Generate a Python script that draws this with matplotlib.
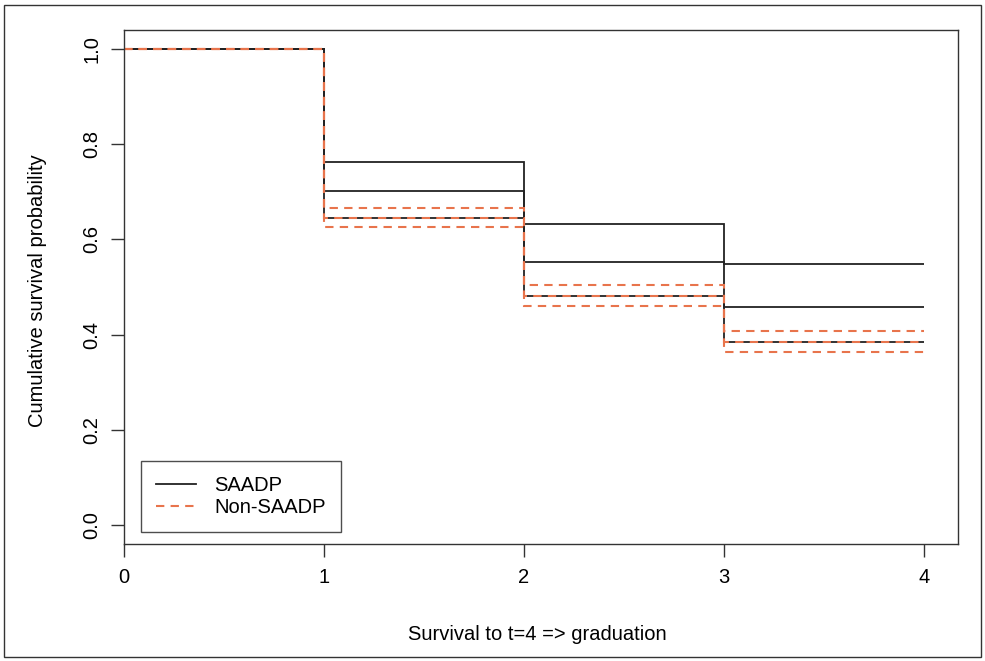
import matplotlib
matplotlib.use("Agg")
import matplotlib.pyplot as plt
from matplotlib.patches import Rectangle

plt.rcParams['font.family'] = ['Liberation Sans', 'DejaVu Sans']

# step times and survival estimates with confidence bounds
times = [0, 1, 2, 3, 4]
saadp_upper = [1.0, 0.762, 0.633, 0.549]
saadp_est = [1.0, 0.701, 0.553, 0.459]
saadp_lower = [1.0, 0.646, 0.482, 0.385]
non_upper = [1.0, 0.667, 0.504, 0.408]
non_est = [1.0, 0.646, 0.482, 0.385]
non_lower = [1.0, 0.627, 0.460, 0.363]

black = "#222222"
orange = "#E8744C"
fs = 14.5

fig = plt.figure(figsize=(9.85, 6.61), dpi=100)
ax = fig.add_axes([0.1259, 0.177, 0.8467, 0.7776])


def stairs(ax, vals, **kw):
    return ax.stairs(vals, times, baseline=None, **kw)


for v in (saadp_upper, saadp_est, saadp_lower):
    stairs(ax, v, color=black, lw=1.3)
for v in (non_upper, non_est, non_lower):
    stairs(ax, v, color=orange, lw=1.5, linestyle=(0, (4, 3)))

ax.plot([], [], color=black, lw=1.3, label="SAADP")
ax.plot([], [], color=orange, lw=1.5, linestyle=(0, (4, 3)), label="Non-SAADP")

ax.set_xlim(0, 4.17)
ax.set_ylim(-0.04, 1.04)
ax.set_xticks([0, 1, 2, 3, 4])
ax.set_yticks([0.0, 0.2, 0.4, 0.6, 0.8, 1.0])
ax.set_yticklabels(["0.0", "0.2", "0.4", "0.6", "0.8", "1.0"], rotation=90, va="center")
ax.tick_params(labelsize=fs, length=9.5, width=1, color="#333333")
ax.tick_params(axis="x", pad=8)
ax.tick_params(axis="y", pad=7)
for s in ax.spines.values():
    s.set_color("#333333")
    s.set_linewidth(1)

fig.text(537 / 985, 1 - 634 / 661, "Survival to t=4 => graduation", fontsize=fs,
         ha="center", va="center")
fig.text(38 / 985, 1 - 291 / 661, "Cumulative survival probability", fontsize=fs,
         ha="center", va="center", rotation=90)

leg = ax.legend(loc="lower left", bbox_to_anchor=(0.02, 0.023), fontsize=fs,
                frameon=True, fancybox=False, handlelength=2.0, handletextpad=0.9,
                borderpad=0.75, labelspacing=0.15, borderaxespad=0)
leg.get_frame().set_edgecolor("#222222")
leg.get_frame().set_linewidth(1)

fig.patches.append(Rectangle((0.004, 0.006), 0.992, 0.986, transform=fig.transFigure,
                             fill=False, edgecolor="#333333", lw=1))

fig.savefig("out.png", dpi=100)
